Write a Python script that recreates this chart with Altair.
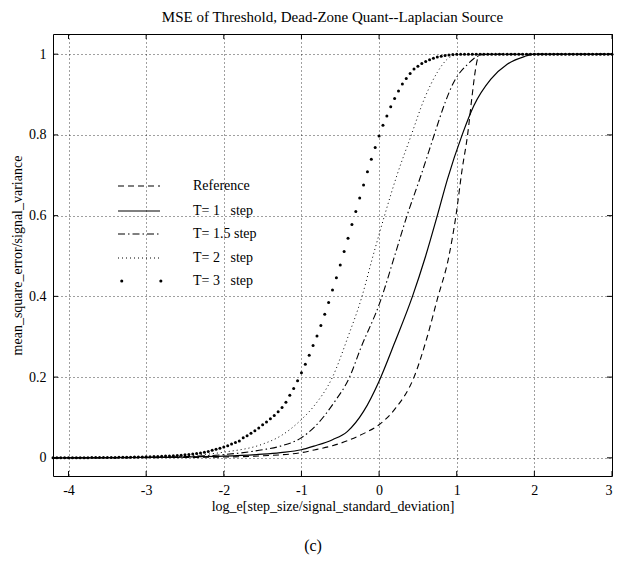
import altair as alt
import pandas as pd
import numpy as np

W, H = 559, 442
XDOM = [-4.2, 3.0]
YDOM = [-0.045, 1.05]
FONT = "Liberation Serif"

title_text = "MSE of Threshold, Dead-Zone Quant--Laplacian Source"
x_title = "log_e[step_size/signal_standard_deviation]"
y_title = "mean_square_error/signal_variance"
x_ticks = [-4, -3, -2, -1, 0, 1, 2, 3]
y_ticks = [0, 0.2, 0.4, 0.6, 0.8, 1]

NB = "\u00a0"
legend_labels = ["Reference", "T= 1" + NB + NB + NB + "step", "T= 1.5 step",
                 "T= 2" + NB + NB + NB + "step", "T= 3" + NB + NB + NB + "step"]

# Reference (dashed)
ref_x = [-4.2, -3.0, -2.5, -2.0, -1.5, -1.0, -0.8, -0.6, -0.4, -0.2, 0.0, 0.2, 0.45,
         0.62, 0.75, 0.9, 0.99, 1.07, 1.14, 1.2, 1.24, 1.27, 1.3, 2.0, 3.0]
ref_y = [0.0, 0.0005, 0.001, 0.002, 0.005, 0.013, 0.021, 0.03, 0.043, 0.06, 0.082, 0.12, 0.2,
         0.3, 0.393, 0.5, 0.6, 0.715, 0.8, 0.9, 0.96, 0.99, 1.0, 1.0, 1.0]

# T = 1 step (solid)
t1_x = [-4.2, -3.0, -2.5, -2.0, -1.5, -1.27, -1.0, -0.84, -0.6, -0.41, -0.2, 0.0, 0.2, 0.43,
        0.6, 0.75, 0.88, 1.07, 1.22, 1.44, 1.65, 1.87, 2.0, 3.0]
t1_y = [0.0, 0.001, 0.002, 0.004, 0.009, 0.013, 0.02, 0.029, 0.045, 0.065, 0.115, 0.19, 0.285, 0.4,
        0.5, 0.6, 0.69, 0.8, 0.872, 0.938, 0.975, 0.994, 1.0, 1.0]

# T = 1.5 step (dash-dot)
t15_x = [-4.2, -3.0, -2.5, -2.0, -1.5, -1.27, -1.0, -0.84, -0.58, -0.38, -0.24, 0.02, 0.2,
         0.36, 0.54, 0.71, 0.85, 0.96, 1.14, 1.27, 1.4, 3.0]
t15_y = [0.0, 0.001, 0.003, 0.008, 0.02, 0.029, 0.05, 0.075, 0.137, 0.2, 0.27, 0.39, 0.5,
         0.6, 0.7, 0.8, 0.88, 0.93, 0.975, 0.995, 1.0, 1.0]

# T = 2 step (fine dotted)
t2_x = [-4.2, -3.0, -2.5, -2.0, -1.5, -1.27, -1.0, -0.84, -0.6, -0.4, -0.22, -0.1, 0.07,
        0.23, 0.41, 0.58, 0.75, 0.88, 1.0, 1.2, 3.0]
t2_y = [0.0, 0.002, 0.005, 0.014, 0.034, 0.054, 0.095, 0.128, 0.2, 0.3, 0.4, 0.485, 0.6,
        0.70, 0.797, 0.888, 0.955, 0.988, 0.998, 1.0, 1.0]

# T = 3 step (big dots, one dot every 0.05 on the x axis)
t3_x = np.round(np.arange(-4.2, 3.0001, 0.05), 2)
t3_y = [
    0.0002, 0.0002, 0.0002, 0.0003, 0.0003, 0.0003, 0.0004, 0.0004, 0.0005, 0.0005,
    0.0006, 0.0006, 0.0007, 0.0008, 0.0009, 0.001, 0.0011, 0.0012, 0.0013, 0.0015,
    0.0016, 0.0018, 0.002, 0.0022, 0.0025,
    0.0028, 0.0031, 0.0035, 0.0039, 0.0043, 0.0048, 0.0054, 0.006, 0.0067, 0.0075,
    0.0085, 0.0095, 0.0107, 0.012, 0.014, 0.016, 0.0185, 0.021, 0.024, 0.027,
    0.030, 0.034, 0.038, 0.042, 0.05, 0.055, 0.061, 0.067, 0.074, 0.082,
    0.089, 0.097, 0.105, 0.114, 0.125, 0.138, 0.155, 0.172, 0.191, 0.211,
    0.232, 0.254, 0.278, 0.302, 0.328, 0.356, 0.385, 0.416, 0.446, 0.478,
    0.511, 0.544, 0.578, 0.61, 0.644, 0.676, 0.709, 0.74, 0.769, 0.797,
    0.824, 0.847, 0.870, 0.89, 0.909, 0.926, 0.94, 0.952, 0.963, 0.97,
    0.977, 0.982, 0.986, 0.99, 0.993, 0.995, 0.997, 0.998, 0.999, 1.0,
    1.0, 1.0, 1.0, 1.0, 1.0, 1.0, 1.0, 1.0, 1.0, 1.0,
    1.0, 1.0, 1.0, 1.0, 1.0, 1.0, 1.0, 1.0, 1.0, 1.0,
    1.0, 1.0, 1.0, 1.0, 1.0, 1.0, 1.0, 1.0, 1.0, 1.0,
    1.0, 1.0, 1.0, 1.0, 1.0, 1.0, 1.0, 1.0, 1.0, 1.0,
]

X = alt.X("x:Q", scale=alt.Scale(domain=XDOM, nice=False, zero=False),
          axis=alt.Axis(values=x_ticks, title=x_title, labelExpr="'' + datum.value",
                        labelPadding=7, titlePadding=2))
Y = alt.Y("y:Q", scale=alt.Scale(domain=YDOM, nice=False, zero=False),
          axis=alt.Axis(values=y_ticks, title=y_title,
                        labelExpr="datum.value == 0 ? '0' : datum.value == 1 ? '1' : format(datum.value, '.1f')",
                        labelPadding=7, titlePadding=4))


def df(xs, ys):
    return pd.DataFrame({"x": list(xs), "y": list(ys)})


one = pd.DataFrame({"a": [0]})

layers = []
layers.append(alt.Chart(df(ref_x, ref_y)).mark_line(
    color="black", strokeWidth=1.1, strokeDash=[6, 4], interpolate="monotone").encode(x=X, y=Y))
layers.append(alt.Chart(df(t1_x, t1_y)).mark_line(
    color="black", strokeWidth=1.2, interpolate="monotone").encode(x=X, y=Y))
layers.append(alt.Chart(df(t15_x, t15_y)).mark_line(
    color="black", strokeWidth=1.1, strokeDash=[7, 3, 1.5, 3], interpolate="monotone").encode(x=X, y=Y))
layers.append(alt.Chart(df(t2_x, t2_y)).mark_line(
    color="black", strokeWidth=1, strokeDash=[1, 3], interpolate="monotone").encode(x=X, y=Y))
layers.append(alt.Chart(df(t3_x, t3_y)).mark_circle(
    color="black", size=9, opacity=1).encode(x=X, y=Y))

# inward tick marks (MATLAB style) on all four sides
tx = pd.DataFrame({"x": x_ticks})
ty = pd.DataFrame({"y": y_ticks})
layers.append(alt.Chart(tx).mark_rule(color="black").encode(x=X, y=alt.value(H), y2=alt.value(H - 5)))
layers.append(alt.Chart(tx).mark_rule(color="black").encode(x=X, y=alt.value(0), y2=alt.value(5)))
layers.append(alt.Chart(ty).mark_rule(color="black").encode(y=Y, x=alt.value(0), x2=alt.value(5)))
layers.append(alt.Chart(ty).mark_rule(color="black").encode(y=Y, x=alt.value(W), x2=alt.value(W - 5)))

# legend
leg_y = [152, 177, 200, 224, 247]
styles = [
    dict(strokeDash=[6, 4], strokeWidth=1.1),
    dict(strokeWidth=1.2),
    dict(strokeDash=[7, 3, 1.5, 3], strokeWidth=1.1),
    dict(strokeDash=[1, 3], strokeWidth=1),
]
for yy, st in zip(leg_y[:4], styles):
    layers.append(alt.Chart(one).mark_rule(color="black", **st).encode(
        x=alt.value(65), x2=alt.value(107), y=alt.value(yy)))
layers.append(alt.Chart(one).mark_rule(color="black", strokeWidth=3, strokeCap="round",
                                       strokeDash=[0.1, 39]).encode(
    x=alt.value(68.7), x2=alt.value(110), y=alt.value(leg_y[4])))
for yy, lab in zip(leg_y, legend_labels):
    layers.append(alt.Chart(one).mark_text(align="left", baseline="middle", font=FONT,
                                           fontSize=14, color="black").encode(
        x=alt.value(140), y=alt.value(yy), text=alt.value(lab)))

# caption
layers.append(alt.Chart(one).mark_text(align="center", baseline="middle", font=FONT,
                                       fontSize=16, color="black").encode(
    x=alt.value(260), y=alt.value(512), text=alt.value("(c)")))

chart = alt.layer(*layers).properties(
    width=W, height=H,
    title=alt.TitleParams(title_text, font=FONT, fontSize=15, fontWeight="normal",
                          anchor="middle", offset=9, color="black"),
    autosize=alt.AutoSizeParams(type="none"),
    padding={"left": 45, "top": 26, "right": 6, "bottom": 81},
).configure_view(stroke="black", strokeWidth=1).configure_axis(
    grid=True, gridColor="black", gridDash=[1, 3], gridOpacity=0.75, gridWidth=1,
    ticks=False, domain=False,
    labelFont=FONT, labelFontSize=14, labelColor="black",
    titleFont=FONT, titleFontSize=14, titleFontWeight="normal", titleColor="black",
)

chart.save("out.html", embed_options={"renderer": "svg", "actions": False})
